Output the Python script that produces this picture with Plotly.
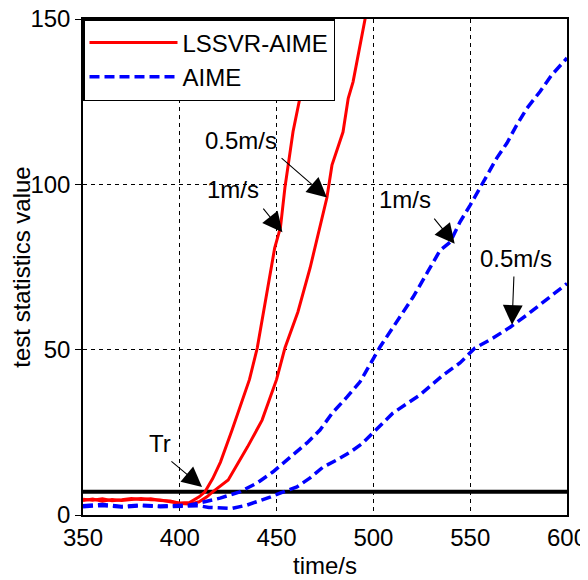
import plotly.graph_objects as go

# ---- data ----
t_red1 = [350, 355, 360, 365, 370, 375, 380, 385, 390, 395, 400, 405, 410, 413, 417, 421, 427, 432, 436, 440, 445, 449, 452, 454.3, 458.5, 460.5, 462, 465, 467, 468]
v_red1 = [4.8, 4.5, 4.9, 4.3, 4.6, 5.0, 4.7, 4.9, 4.4, 4.2, 3.6, 3.8, 5.5, 7, 11, 16, 25.7, 34, 41, 50.5, 67.4, 80.7, 87, 99, 116, 122, 126, 140, 150, 155]

t_red05 = [350, 355, 360, 365, 370, 375, 380, 385, 390, 395, 400, 405, 410, 414, 417, 425, 435, 442.5, 447, 450, 454.3, 461, 467.3, 476, 478.6, 484.3, 487, 489.5, 495.7, 497]
v_red05 = [4.4, 4.8, 4.2, 4.7, 4.4, 4.6, 5.0, 4.6, 4.5, 4.0, 3.5, 3.3, 4.0, 5.5, 7, 10.6, 20.6, 28.7, 36, 41, 50.5, 61.4, 74.7, 96, 105.8, 115.8, 126, 131, 150, 154]

t_blue1 = [350, 360, 370, 380, 390, 400, 405, 410, 415, 420.8, 431, 440, 448, 457, 465.7, 472.4, 479, 486.4, 493, 503.4, 510, 520.5, 528, 534.4, 539.6, 544.7, 550, 556.6, 563.8, 569, 574, 579.3, 586, 592, 600]
v_blue1 = [2.8, 3.2, 2.6, 3.0, 2.7, 2.9, 3.0, 3.6, 4.3, 5.1, 7, 9.7, 13, 17.5, 21.8, 25.7, 31, 35.7, 40.2, 50.8, 56.8, 65.9, 73.5, 80, 82.5, 88.6, 93.7, 100.7, 108, 112.5, 117.9, 123, 128, 133, 138.2]

t_blue05 = [350, 360, 370, 380, 390, 400, 410, 415, 420, 427, 434.7, 440, 446.6, 451.8, 460.5, 467.3, 474, 481, 488, 494, 499.8, 510, 524, 536, 544.7, 552.5, 561.8, 570.6, 579.3, 587.6, 600]
v_blue05 = [2.5, 2.9, 2.4, 2.8, 2.5, 2.7, 2.8, 2.3, 2.2, 2.0, 3.0, 4.0, 5.4, 6.6, 8.5, 11.2, 14.5, 16.6, 19, 21.5, 24.8, 30.8, 36.3, 42.3, 46, 50.5, 53.5, 56.8, 60.5, 64.4, 70]

threshold = 7
x_ticks = [350, 400, 450, 500, 550, 600]
y_ticks = [0, 50, 100, 150]

FONT = "Liberation Sans, Arial, Helvetica, sans-serif"
FS = 24

fig = go.Figure()
# threshold line
fig.add_trace(go.Scatter(x=[350, 600], y=[threshold, threshold], mode="lines",
                         line=dict(color="black", width=4), showlegend=False, hoverinfo="skip"))
fig.add_trace(go.Scatter(x=t_red1, y=v_red1, mode="lines", name="LSSVR-AIME",
                         line=dict(color="#ff0000", width=3), legendgroup="r"))
fig.add_trace(go.Scatter(x=t_red05, y=v_red05, mode="lines", name="LSSVR-AIME",
                         line=dict(color="#ff0000", width=3), showlegend=False, legendgroup="r"))
fig.add_trace(go.Scatter(x=t_blue1, y=v_blue1, mode="lines", name="AIME",
                         line=dict(color="#0000ff", width=3.5, dash="10px,5px"), legendgroup="b"))
fig.add_trace(go.Scatter(x=t_blue05, y=v_blue05, mode="lines", name="AIME",
                         line=dict(color="#0000ff", width=3.5, dash="10px,5px"), showlegend=False, legendgroup="b"))

# annotations: (text, text_x, text_y, tail_x, tail_y, tip_x, tip_y)
notes = [
    ("Tr", 389.8, 21.5, 394.9, 16.6, 411.5, 8.5),
    ("0.5m/s", 431.6, 113.4, 451.8, 108.3, 476, 96),
    ("1m/s", 427.5, 98.3, 442.5, 93.1, 453, 85.5),
    ("1m/s", 516.3, 95.3, 530.8, 90.1, 542, 82),
    ("0.5m/s", 573.7, 77.7, 572.6, 72.6, 571.6, 57.5),
]
for txt, tx, ty, ax_, ay_, hx, hy in notes:
    fig.add_annotation(x=tx, y=ty, text=txt, showarrow=False,
                       font=dict(family=FONT, size=FS, color="black"))
    fig.add_annotation(x=hx, y=hy, ax=ax_, ay=ay_, axref="x", ayref="y", text="",
                       showarrow=True, arrowhead=2, arrowsize=3.6, arrowwidth=1.1, arrowcolor="black")

axis_common = dict(showline=True, linecolor="black", linewidth=1.5, mirror=True, automargin=False,
                   ticklabeloverflow="allow",
                   showgrid=True, gridcolor="black", gridwidth=1, griddash="4px,4px",
                   zeroline=False, tickfont=dict(family=FONT, size=FS, color="black"))
fig.update_xaxes(range=[350, 600], tickvals=x_ticks, ticks="",
                 title=dict(text="time/s", font=dict(family=FONT, size=FS, color="black"), standoff=8),
                 **axis_common)
fig.update_yaxes(range=[0, 150], tickvals=y_ticks, ticks="outside", ticklen=6, tickcolor="black",
                 title=dict(text="test statistics value", font=dict(family=FONT, size=FS, color="black"), standoff=4),
                 **axis_common)

# page body has an 8px default margin, so the figure is 8px smaller and shifted
fig.update_layout(
    width=580, height=572,
    margin=dict(l=75, r=21, t=11, b=65),
    plot_bgcolor="white", paper_bgcolor="white",
    font=dict(family=FONT, size=FS, color="black"),
    legend=dict(x=0, y=1, xanchor="left", yanchor="top", bgcolor="white",
                bordercolor="black", borderwidth=1.5, itemwidth=88,
                font=dict(family=FONT, size=FS, color="black"), tracegroupgap=0),
)

fig.write_html("out.html")
